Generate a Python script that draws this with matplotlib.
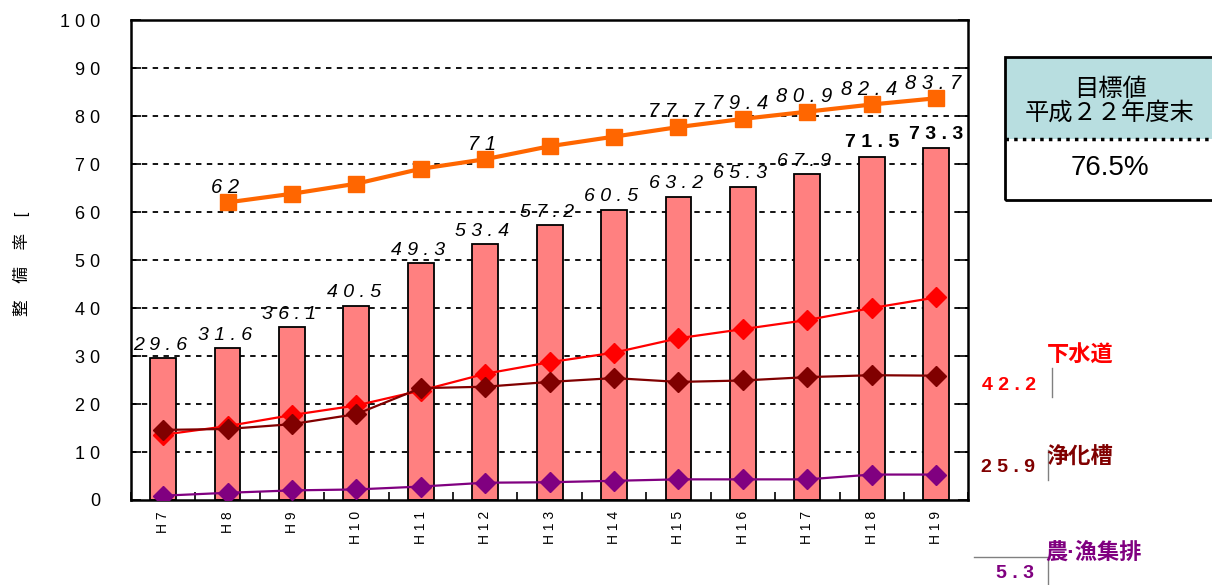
import numpy as np
import matplotlib.pyplot as plt
from matplotlib.patches import Rectangle
from matplotlib.lines import Line2D

plt.rcParams['font.family'] = ['Liberation Sans', 'Noto Sans CJK JP', 'DejaVu Sans']

# fiscal years (Heisei)
years = ['H7', 'H8', 'H9', 'H10', 'H11', 'H12', 'H13',
         'H14', 'H15', 'H16', 'H17', 'H18', 'H19']

# total sanitation coverage (%)
total = [29.6, 31.6, 36.1, 40.5, 49.3, 53.4, 57.2,
         60.5, 63.2, 65.3, 67.9, 71.5, 73.3]

# national average (%), no value for H7
national = [np.nan, 62.0, 63.8, 65.9, 69.0, 71.0, 73.7,
            75.7, 77.7, 79.4, 80.9, 82.4, 83.7]
national_labelled = [1, 5, 8, 9, 10, 11, 12]

sewer = [13.6, 15.4, 17.7, 19.7, 22.8, 26.3, 28.7,
         30.7, 33.7, 35.6, 37.5, 40.0, 42.2]
septic = [14.6, 14.8, 15.8, 17.9, 23.3, 23.6, 24.6,
          25.4, 24.6, 24.9, 25.6, 26.0, 25.9]
rural = [0.9, 1.5, 2.0, 2.2, 2.8, 3.6, 3.7,
         4.0, 4.3, 4.3, 4.3, 5.3, 5.3]

target_head = '目標値\n平成２２年度末'
target_value = '76.5%'


def spaced(s):
    return ' '.join(s)


def fmt(v):
    return f'{v:g}' if float(v).is_integer() else f'{v:.1f}'


fig = plt.figure(figsize=(12.12, 5.85), dpi=100)
ax = fig.add_axes([0.108, 0.1453, 0.691, 0.8205])

x = np.arange(len(years))

# dashed grid behind bars
for g in range(10, 100, 10):
    ax.axhline(g, color='black', lw=1.3, ls=(0, (3, 3)), zorder=0)

ax.bar(x, total, width=0.4, color='#FF8080', edgecolor='black', lw=1.3, zorder=2)

for i, v in enumerate(total):
    if i >= len(total) - 2:
        ax.annotate(spaced(fmt(v)), (i, v), xytext=(0, 4), textcoords='offset points',
                    ha='center', va='bottom', fontsize=14, fontweight='bold', zorder=5)
    else:
        ax.annotate(spaced(fmt(v)), (i, v), xytext=(-2, 3), textcoords='offset points',
                    ha='center', va='bottom', fontsize=14, style='italic', zorder=5)

ax.plot(x, national, color='#FF6600', lw=3, marker='s', ms=11, zorder=4)
for i in national_labelled:
    ax.annotate(spaced(fmt(national[i])), (i, national[i]), xytext=(-2, 4),
                textcoords='offset points', ha='center', va='bottom',
                fontsize=14.5, style='italic', zorder=5)

ax.plot(x, sewer, color='#FF0000', lw=1.6, marker='D', ms=10, zorder=3)
ax.plot(x, septic, color='#800000', lw=1.6, marker='D', ms=10, zorder=3)
ax.plot(x, rural, color='#800080', lw=1.6, marker='D', ms=10, zorder=3)

ax.set_xlim(-0.5, len(years) - 0.5)
ax.set_ylim(0, 100)
ax.set_yticks(range(0, 101, 10))
ax.set_yticklabels([spaced(str(t)) for t in range(0, 101, 10)], fontsize=13)
ax.set_xticks(x)
ax.set_xticklabels([spaced(y) for y in years], rotation=90, fontsize=10, va='top')
ax.set_xticks(np.arange(-0.5, len(years), 1), minor=True)
ax.tick_params(axis='x', which='major', length=0, pad=8)
ax.tick_params(axis='x', which='minor', direction='in', length=6, width=1.2)
ax.tick_params(axis='y', direction='in', length=7, width=1.2, right=True, pad=22)
for s in ax.spines.values():
    s.set_linewidth(1.8)

fig.text(0.018, 1 - 264 / 585, '整　備　率　[', rotation=90, ha='center', va='center',
         fontsize=12)

# series names and latest values at the right
fig.text(1080 / 1212, 1 - 356 / 585, '下水道', color='#FF0000', fontsize=16,
         fontweight='bold', ha='center', va='center')
fig.text(1009 / 1212, 1 - 385 / 585, spaced(fmt(sewer[-1])), color='#FF0000',
         fontsize=14, fontweight='bold', ha='center', va='center')
fig.text(1080 / 1212, 1 - 458 / 585, '浄化槽', color='#800000', fontsize=16,
         fontweight='bold', ha='center', va='center')
fig.text(1008 / 1212, 1 - 467 / 585, spaced(fmt(septic[-1])), color='#800000',
         fontsize=14, fontweight='bold', ha='center', va='center')
fig.text(1094 / 1212, 1 - 553 / 585, '農·漁集排', color='#800080', fontsize=16,
         fontweight='bold', ha='center', va='center')
fig.text(1015 / 1212, 1 - 573 / 585, spaced(fmt(rural[-1])), color='#800080',
         fontsize=14, fontweight='bold', ha='center', va='center')


def fig_line(xs, ys):
    fig.add_artist(Line2D([p / 1212 for p in xs], [1 - p / 585 for p in ys],
                          color='#808080', lw=1))


fig_line([1052, 1052], [368, 397])
fig_line([1048, 1048], [450, 480])
fig_line([974, 1048, 1048], [557, 557, 585])

# target value box
bx0, bx1 = 1005 / 1212, 1.02
by_top, by_mid, by_bot = 1 - 57 / 585, 1 - 139 / 585, 1 - 200 / 585
fig.add_artist(Rectangle((bx0, by_mid), bx1 - bx0, by_top - by_mid,
                         facecolor='#B8DEE0', edgecolor='none'))
fig.add_artist(Rectangle((bx0, by_bot), bx1 - bx0, by_top - by_bot,
                         facecolor='none', edgecolor='black', lw=2))
fig.add_artist(Line2D([bx0, bx1], [by_mid, by_mid], color='black', lw=2.5,
                      ls=(0, (1, 1.5))))
fig.text(1110 / 1212, 1 - 102 / 585, target_head, ha='center', va='center',
         fontsize=17.5, linespacing=1.1)
fig.text(1110 / 1212, 1 - 168 / 585, target_value, ha='center', va='center',
         fontsize=20)

fig.savefig('out.png', dpi=100)
